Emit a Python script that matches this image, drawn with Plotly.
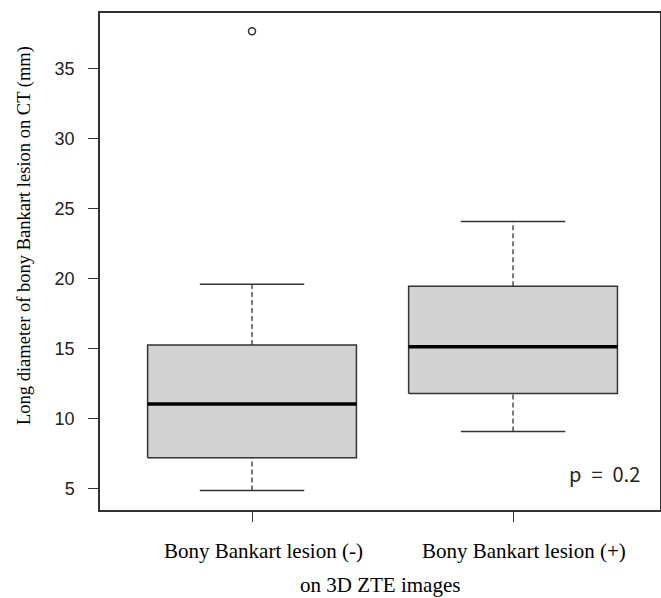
import plotly.graph_objects as go

groups = ["Bony Bankart lesion (-)", "Bony Bankart lesion (+)"]
positions = [1, 2]
lower_whisker = [4.88, 9.09]
q1 = [7.21, 11.79]
median = [11.05, 15.14]
q3 = [15.26, 19.45]
upper_whisker = [19.6, 24.07]
outliers = [[37.66], []]

y_ticks = [5, 10, 15, 20, 25, 30, 35]
y_title = "Long diameter of bony Bankart lesion on CT (mm)"
x_title = "on 3D ZTE images"
p_text = "p\u2002=\u20020.2"

BOX_HALF = 0.4
CAP_HALF = 0.2
EDGE = "#333333"
FILL = "#D3D3D3"
DASH = "5px,3px"

fig = go.Figure()
for i, xc in enumerate(positions):
    fig.add_trace(go.Scatter(x=[xc, xc], y=[q3[i], upper_whisker[i]], mode="lines",
                             line=dict(color=EDGE, width=1.3, dash=DASH), hoverinfo="skip", showlegend=False))
    fig.add_trace(go.Scatter(x=[xc, xc], y=[lower_whisker[i], q1[i]], mode="lines",
                             line=dict(color=EDGE, width=1.3, dash=DASH), hoverinfo="skip", showlegend=False))
    fig.add_trace(go.Scatter(x=[xc - CAP_HALF, xc + CAP_HALF], y=[upper_whisker[i]] * 2, mode="lines",
                             line=dict(color=EDGE, width=1.5), hoverinfo="skip", showlegend=False))
    fig.add_trace(go.Scatter(x=[xc - CAP_HALF, xc + CAP_HALF], y=[lower_whisker[i]] * 2, mode="lines",
                             line=dict(color=EDGE, width=1.5), hoverinfo="skip", showlegend=False))
    fig.add_trace(go.Scatter(x=[xc - BOX_HALF, xc + BOX_HALF, xc + BOX_HALF, xc - BOX_HALF, xc - BOX_HALF],
                             y=[q1[i], q1[i], q3[i], q3[i], q1[i]], mode="lines", fill="toself",
                             fillcolor=FILL, line=dict(color=EDGE, width=1.5), hoverinfo="skip", showlegend=False))
    fig.add_trace(go.Scatter(x=[xc - BOX_HALF, xc + BOX_HALF], y=[median[i]] * 2, mode="lines",
                             line=dict(color="black", width=3.5), hoverinfo="skip", showlegend=False))
    if outliers[i]:
        fig.add_trace(go.Scatter(x=[xc] * len(outliers[i]), y=outliers[i], mode="markers",
                                 marker=dict(symbol="circle-open", size=7, color=EDGE, line=dict(width=1.5)),
                                 hoverinfo="skip", showlegend=False))

annotations = [
    dict(text=y_title, xref="paper", yref="paper", x=-0.136, y=0.553, textangle=-90,
         showarrow=False, xanchor="center", yanchor="middle",
         font=dict(family="Liberation Serif", size=18.5, color="black")),
    dict(text=x_title, xref="paper", yref="paper", x=0.5, y=-0.151,
         showarrow=False, xanchor="center", yanchor="middle",
         font=dict(family="Liberation Serif", size=21, color="black")),
    dict(text=p_text, xref="paper", yref="paper", x=0.968, y=0.073,
         showarrow=False, xanchor="right", yanchor="middle",
         font=dict(family="Noto Sans CJK JP", size=20, color="#222222")),
]
# category labels (set slightly right of their ticks, as in the reference)
for xc, label in zip(positions, groups):
    annotations.append(dict(text=label, xref="x", yref="paper", x=xc, y=-0.083, xshift=11,
                            showarrow=False, xanchor="center", yanchor="middle",
                            font=dict(family="Liberation Serif", size=21, color="black")))

fig.update_layout(
    template="none",
    width=661, height=598,
    margin=dict(l=100, r=1, t=13, b=88, autoexpand=False),
    paper_bgcolor="white", plot_bgcolor="white",
    showlegend=False,
    xaxis=dict(range=[0.4176, 2.563], tickmode="array", tickvals=positions, showticklabels=False,
               automargin=False,
               showgrid=False, zeroline=False, showline=True, mirror=True, linecolor=EDGE, linewidth=1.5,
               ticks="outside", ticklen=10, tickwidth=1.3, tickcolor=EDGE),
    yaxis=dict(range=[3.48, 38.96], tickmode="array", tickvals=y_ticks,
               automargin=False,
               showgrid=False, zeroline=False, showline=True, mirror=True, linecolor=EDGE, linewidth=1.5,
               ticks="outside", ticklen=10, tickwidth=1.3, tickcolor=EDGE, ticklabelstandoff=10,
               tickfont=dict(family="Liberation Sans", size=18, color="#222222")),
    annotations=annotations,
)

fig.write_html("out.html", config={"displayModeBar": False},
               post_script="document.body.style.margin='0';")
